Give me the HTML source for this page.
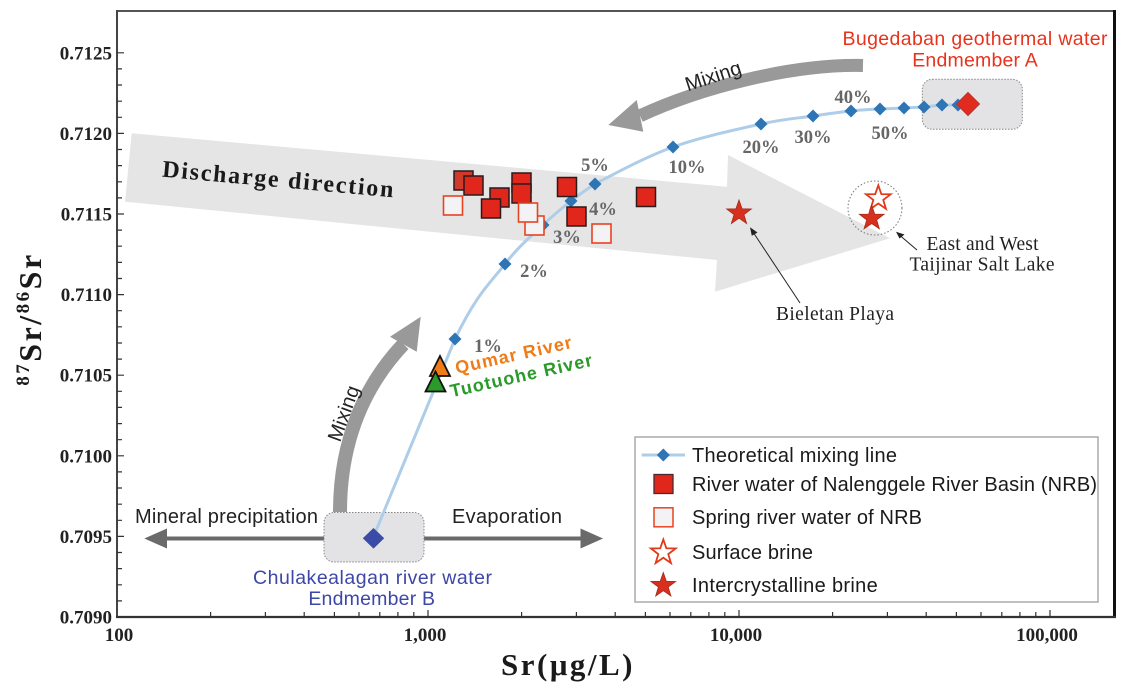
<!DOCTYPE html>
<html><head><meta charset="utf-8"><style>
html,body{margin:0;padding:0;background:#fff;}
svg{display:block;}
.ax{font-family:"Liberation Serif",serif;font-weight:bold;font-size:19px;fill:#222;}
.pc{font-family:"Liberation Serif",serif;font-weight:bold;font-size:18.5px;fill:#666;text-anchor:middle;}
.sa{font-family:"Liberation Sans",sans-serif;}
</style></head><body>
<svg width="1122" height="684" viewBox="0 0 1122 684" xmlns="http://www.w3.org/2000/svg">
<defs>
<path id="star" d="M0,-13 L3.06,-4.21 L12.36,-4.02 L4.95,1.61 L7.64,10.52 L0,5.2 L-7.64,10.52 L-4.95,1.61 L-12.36,-4.02 L-3.06,-4.21 Z"/>
<path id="dm" d="M0,-6.5 L6.5,0 L0,6.5 L-6.5,0Z"/>
</defs>
<rect width="1122" height="684" fill="#fff"/>

<!-- discharge arrow -->
<polygon points="131.7,133.3 727,186.7 728,155 890,238.3 715,291.7 717,260 125,201.7" fill="#e5e5e5"/>
<text x="161.7" y="176.7" transform="rotate(5.1 161.7 176.7)" font-family="Liberation Serif, serif" font-weight="bold" font-size="24" fill="#1a1a1a" textLength="232" lengthAdjust="spacing">Discharge direction</text>

<!-- top mixing arrow -->
<path d="M863,65.5 C790,64 700,88 640,115.8" fill="none" stroke="#999" stroke-width="13"/>
<polygon points="608.3,125 636.7,100 643.3,131.7" fill="#999"/>
<text x="715.2" y="82.4" transform="rotate(-18.2 715.2 82.4)" text-anchor="middle" class="sa" font-size="20" fill="#222">Mixing</text>

<!-- left mixing arrow -->
<path d="M340,512 C340,440 365,385 403.4,344.2" fill="none" stroke="#999" stroke-width="14"/>
<polygon points="420.7,316.7 390,336.7 416.7,351.7" fill="#999"/>
<text x="349.9" y="415.7" transform="rotate(-70 349.9 415.7)" text-anchor="middle" class="sa" font-size="20" fill="#222">Mixing</text>

<!-- horizontal arrows -->
<line x1="164" y1="538.5" x2="330" y2="538.5" stroke="#6a6a6a" stroke-width="4"/>
<polygon points="144.3,538.5 167,528.5 167,548.5" fill="#6a6a6a"/>
<line x1="420" y1="538.5" x2="584" y2="538.5" stroke="#6a6a6a" stroke-width="4"/>
<polygon points="603,538.5 580.5,528.5 580.5,548.5" fill="#6a6a6a"/>
<text x="135" y="523" class="sa" font-size="20" fill="#222" textLength="183" lengthAdjust="spacing">Mineral precipitation</text>
<text x="452" y="523" class="sa" font-size="20" fill="#222" textLength="110" lengthAdjust="spacing">Evaporation</text>

<!-- endmember boxes -->
<rect x="324" y="512.5" width="100" height="49.5" rx="10" fill="#e3e3e5" stroke="#888" stroke-width="1" stroke-dasharray="1.5,1.5"/>
<rect x="922.3" y="79.3" width="100" height="50" rx="10" fill="#e3e3e5" stroke="#888" stroke-width="1" stroke-dasharray="1.5,1.5"/>

<!-- mixing line -->
<path d="M373,538 L455,339 C477,293.3 490.3,283 505,264 C519.7,245 532,235.5 543,225 C554,214.5 562.3,207.8 571,201 C579.7,194.2 587,189 595,184 C612,175 645.3,157 673,147 C700.7,137 737.7,129.2 761,124 C784.3,118.8 798,118.2 813,116 C828,113.8 839.8,112.2 851,111 C862.2,109.8 871.2,109.5 880,109 L904,108 L924,107 L942,105 L958,105 L968,104" fill="none" stroke="#aecde9" stroke-width="3" stroke-linejoin="round"/>
<g fill="#2e75b6">
<use href="#dm" x="455" y="339"/><use href="#dm" x="505" y="264"/><use href="#dm" x="543" y="225"/>
<use href="#dm" x="571" y="201"/><use href="#dm" x="595" y="184"/><use href="#dm" x="673" y="147"/>
<use href="#dm" x="761" y="124"/><use href="#dm" x="813" y="116"/><use href="#dm" x="851" y="111"/>
<use href="#dm" x="880" y="109"/><use href="#dm" x="904" y="108"/><use href="#dm" x="924" y="107"/>
<use href="#dm" x="942" y="105"/><use href="#dm" x="958" y="105"/>
</g>
<path d="M968,92.5 L979.5,104 L968,115.5 L956.5,104Z" fill="#e02b1e" stroke="#b33" stroke-width="1"/>
<path d="M373.5,528 L384.2,538.3 L373.5,548.6 L362.8,538.3Z" fill="#3a4ba8"/>

<!-- percent labels -->
<text class="pc" x="488" y="352">1%</text>
<text class="pc" x="534" y="277">2%</text>
<text class="pc" x="567" y="243">3%</text>
<text class="pc" x="603" y="215">4%</text>
<text class="pc" x="595" y="171">5%</text>
<text class="pc" x="687" y="173">10%</text>
<text class="pc" x="761" y="153">20%</text>
<text class="pc" x="813" y="143">30%</text>
<text class="pc" x="853" y="103">40%</text>
<text class="pc" x="890" y="139">50%</text>

<!-- squares -->
<g stroke="#e8431f" stroke-width="1.6" fill="#f3f3f5">
<rect x="443.5" y="196" width="19" height="19"/>
</g>
<g stroke="#2a1a1a" stroke-width="1.5" fill="#e1261c">
<rect x="454" y="171" width="19" height="19" fill="#cf3a2a"/>
<rect x="464" y="176" width="19" height="19"/>
<rect x="490" y="188" width="19" height="19"/>
<rect x="481.5" y="199" width="19" height="19"/>
<rect x="512" y="173" width="19" height="19"/>
<rect x="512" y="184" width="19" height="19"/>
<rect x="557.5" y="177.5" width="19" height="19"/>
<rect x="567" y="207" width="19" height="19"/>
<rect x="636.5" y="187.5" width="19" height="19"/>
</g>
<g stroke="#e8431f" stroke-width="1.6" fill="#f3f3f5">
<rect x="525" y="216" width="19" height="19"/>
<rect x="518.5" y="203" width="19" height="19"/>
<rect x="592" y="224" width="19" height="19"/>
</g>

<!-- triangles -->
<polygon points="440,356 450,376 430,376" fill="#f07c18" stroke="#111" stroke-width="1.8"/>
<polygon points="435.5,371.5 445.5,391.5 425.5,391.5" fill="#2a9a2a" stroke="#111" stroke-width="1.8"/>
<text x="456.7" y="374" transform="rotate(-12.7 456.7 374)" class="sa" font-weight="bold" font-size="18" fill="#f07c18" textLength="119" lengthAdjust="spacing">Qumar River</text>
<text x="451.7" y="397.3" transform="rotate(-12.6 451.7 397.3)" class="sa" font-weight="bold" font-size="18" fill="#2a9a2a" textLength="145" lengthAdjust="spacing">Tuotuohe River</text>

<!-- stars -->
<use href="#star" x="739" y="213" fill="#d7301f" stroke="#a52a1a" stroke-width="0.8"/>
<circle cx="875" cy="208" r="27" fill="none" stroke="#777" stroke-width="1" stroke-dasharray="1.5,2"/>
<use href="#star" x="878.3" y="198.3" fill="#fff" stroke="#e03a1a" stroke-width="1.8"/>
<use href="#star" x="871.7" y="218.3" fill="#d7301f" stroke="#a52a1a" stroke-width="0.8"/>

<!-- annotation arrows -->
<line x1="800" y1="303" x2="753" y2="232" stroke="#222" stroke-width="1"/>
<polygon points="750,227.3 757.5,232.5 751.8,235.8" fill="#222"/>
<line x1="917" y1="250" x2="900" y2="235.5" stroke="#222" stroke-width="1"/>
<polygon points="896,231.7 904.5,234.5 899.5,238.5" fill="#222"/>
<text x="776" y="320" font-family="Liberation Serif, serif" font-size="19.5" fill="#222" textLength="118" lengthAdjust="spacing">Bieletan Playa</text>
<text x="926.5" y="250" font-family="Liberation Serif, serif" font-size="19.5" fill="#222" textLength="112" lengthAdjust="spacing">East and West</text>
<text x="909.5" y="270.5" font-family="Liberation Serif, serif" font-size="19.5" fill="#222" textLength="145" lengthAdjust="spacing">Taijinar Salt Lake</text>

<!-- endmember labels -->
<text x="975" y="45" text-anchor="middle" class="sa" font-size="19.5" fill="#e8331c" textLength="265" lengthAdjust="spacing">Bugedaban geothermal water</text>
<text x="975" y="66.7" text-anchor="middle" class="sa" font-size="19.5" fill="#e8331c" textLength="125.6" lengthAdjust="spacing">Endmember A</text>
<text x="372.5" y="584" text-anchor="middle" class="sa" font-size="19.5" fill="#3d47a8" textLength="239" lengthAdjust="spacing">Chulakealagan river water</text>
<text x="371.7" y="605" text-anchor="middle" class="sa" font-size="19.5" fill="#3d47a8" textLength="126.7" lengthAdjust="spacing">Endmember B</text>

<!-- legend -->
<rect x="635" y="437" width="463" height="165" fill="#fff" stroke="#aaa" stroke-width="1.5"/>
<line x1="641.7" y1="455" x2="685" y2="455" stroke="#aecde9" stroke-width="3"/>
<use href="#dm" x="663.3" y="455" fill="#2e75b6"/>
<rect x="654" y="474.5" width="19" height="19" fill="#e1261c" stroke="#4a2a2a" stroke-width="1.3"/>
<rect x="654" y="507.8" width="19" height="19" fill="#f3f3f5" stroke="#e8431f" stroke-width="1.5"/>
<use href="#star" x="663.3" y="552.5" fill="#fff" stroke="#e03a1a" stroke-width="1.8"/>
<use href="#star" x="663.3" y="585.5" fill="#d7301f" stroke="#a52a1a" stroke-width="0.8"/>
<g class="sa" font-size="20" fill="#1a1a1a">
<text x="692" y="462" textLength="205" lengthAdjust="spacing">Theoretical mixing line</text>
<text x="692" y="491" textLength="405" lengthAdjust="spacing">River water of Nalenggele River Basin (NRB)</text>
<text x="692" y="524" textLength="230" lengthAdjust="spacing">Spring river water of NRB</text>
<text x="692" y="559" textLength="121" lengthAdjust="spacing">Surface brine</text>
<text x="692" y="592" textLength="185.7" lengthAdjust="spacing">Intercrystalline brine</text>
</g>

<!-- frame -->
<line x1="117" y1="11" x2="1114" y2="11" stroke="#555" stroke-width="2"/>
<line x1="1114.5" y1="10" x2="1114.5" y2="618" stroke="#111" stroke-width="3"/>
<line x1="117" y1="10" x2="117" y2="618" stroke="#444" stroke-width="2"/>
<line x1="116" y1="617" x2="1116" y2="617" stroke="#333" stroke-width="2.2"/>

<!-- ticks -->
<g stroke="#333" stroke-width="1.2">
<path d="M117,617h7 M117,600.9h5 M117,584.8h5 M117,568.6h5 M117,552.5h5 M117,536.4h7 M117,520.3h5 M117,504.2h5 M117,488h5 M117,471.9h5 M117,455.8h7 M117,439.7h5 M117,423.6h5 M117,407.4h5 M117,391.3h5 M117,375.2h7 M117,359.1h5 M117,343h5 M117,326.8h5 M117,310.7h5 M117,294.6h7 M117,278.5h5 M117,262.4h5 M117,246.2h5 M117,230.1h5 M117,214h7 M117,197.9h5 M117,181.8h5 M117,165.6h5 M117,149.5h5 M117,133.4h7 M117,117.3h5 M117,101.2h5 M117,85h5 M117,68.9h5 M117,52.8h7"/>
<path d="M210.6,617v-5 M265.4,617v-5 M304.2,617v-5 M334.4,617v-5 M359,617v-5 M379.8,617v-5 M397.9,617v-5 M413.8,617v-5 M428,617v-7 M521.6,617v-5 M576.4,617v-5 M615.2,617v-5 M645.4,617v-5 M670,617v-5 M690.8,617v-5 M708.9,617v-5 M724.8,617v-5 M739,617v-7 M832.6,617v-5 M887.4,617v-5 M926.2,617v-5 M956.4,617v-5 M981,617v-5 M1001.8,617v-5 M1019.9,617v-5 M1035.8,617v-5 M1050,617v-7"/>
</g>
<g class="ax" text-anchor="end">
<text x="112" y="623.5">0.7090</text>
<text x="112" y="543">0.7095</text>
<text x="112" y="462.3">0.7100</text>
<text x="112" y="381.7">0.7105</text>
<text x="112" y="301.1">0.7110</text>
<text x="112" y="220.5">0.7115</text>
<text x="112" y="139.9">0.7120</text>
<text x="112" y="59.3">0.7125</text>
</g>
<g class="ax" text-anchor="middle">
<text x="119" y="641">100</text>
<text x="425" y="641">1,000</text>
<text x="736" y="641">10,000</text>
<text x="1047" y="641">100,000</text>
</g>

<!-- axis titles -->
<text x="501" y="675" font-family="Liberation Serif, serif" font-weight="bold" font-size="31" fill="#1a1a1a" letter-spacing="2.5">Sr(μg/L)</text>
<text x="41" y="319" transform="rotate(-90 41 319)" text-anchor="middle" font-family="Liberation Serif, serif" font-weight="bold" font-size="32" fill="#1a1a1a" letter-spacing="2.5"><tspan font-size="19" dy="-12">87</tspan><tspan dy="12">Sr/</tspan><tspan font-size="19" dy="-12">86</tspan><tspan dy="12">Sr</tspan></text>
</svg>
</body></html>
